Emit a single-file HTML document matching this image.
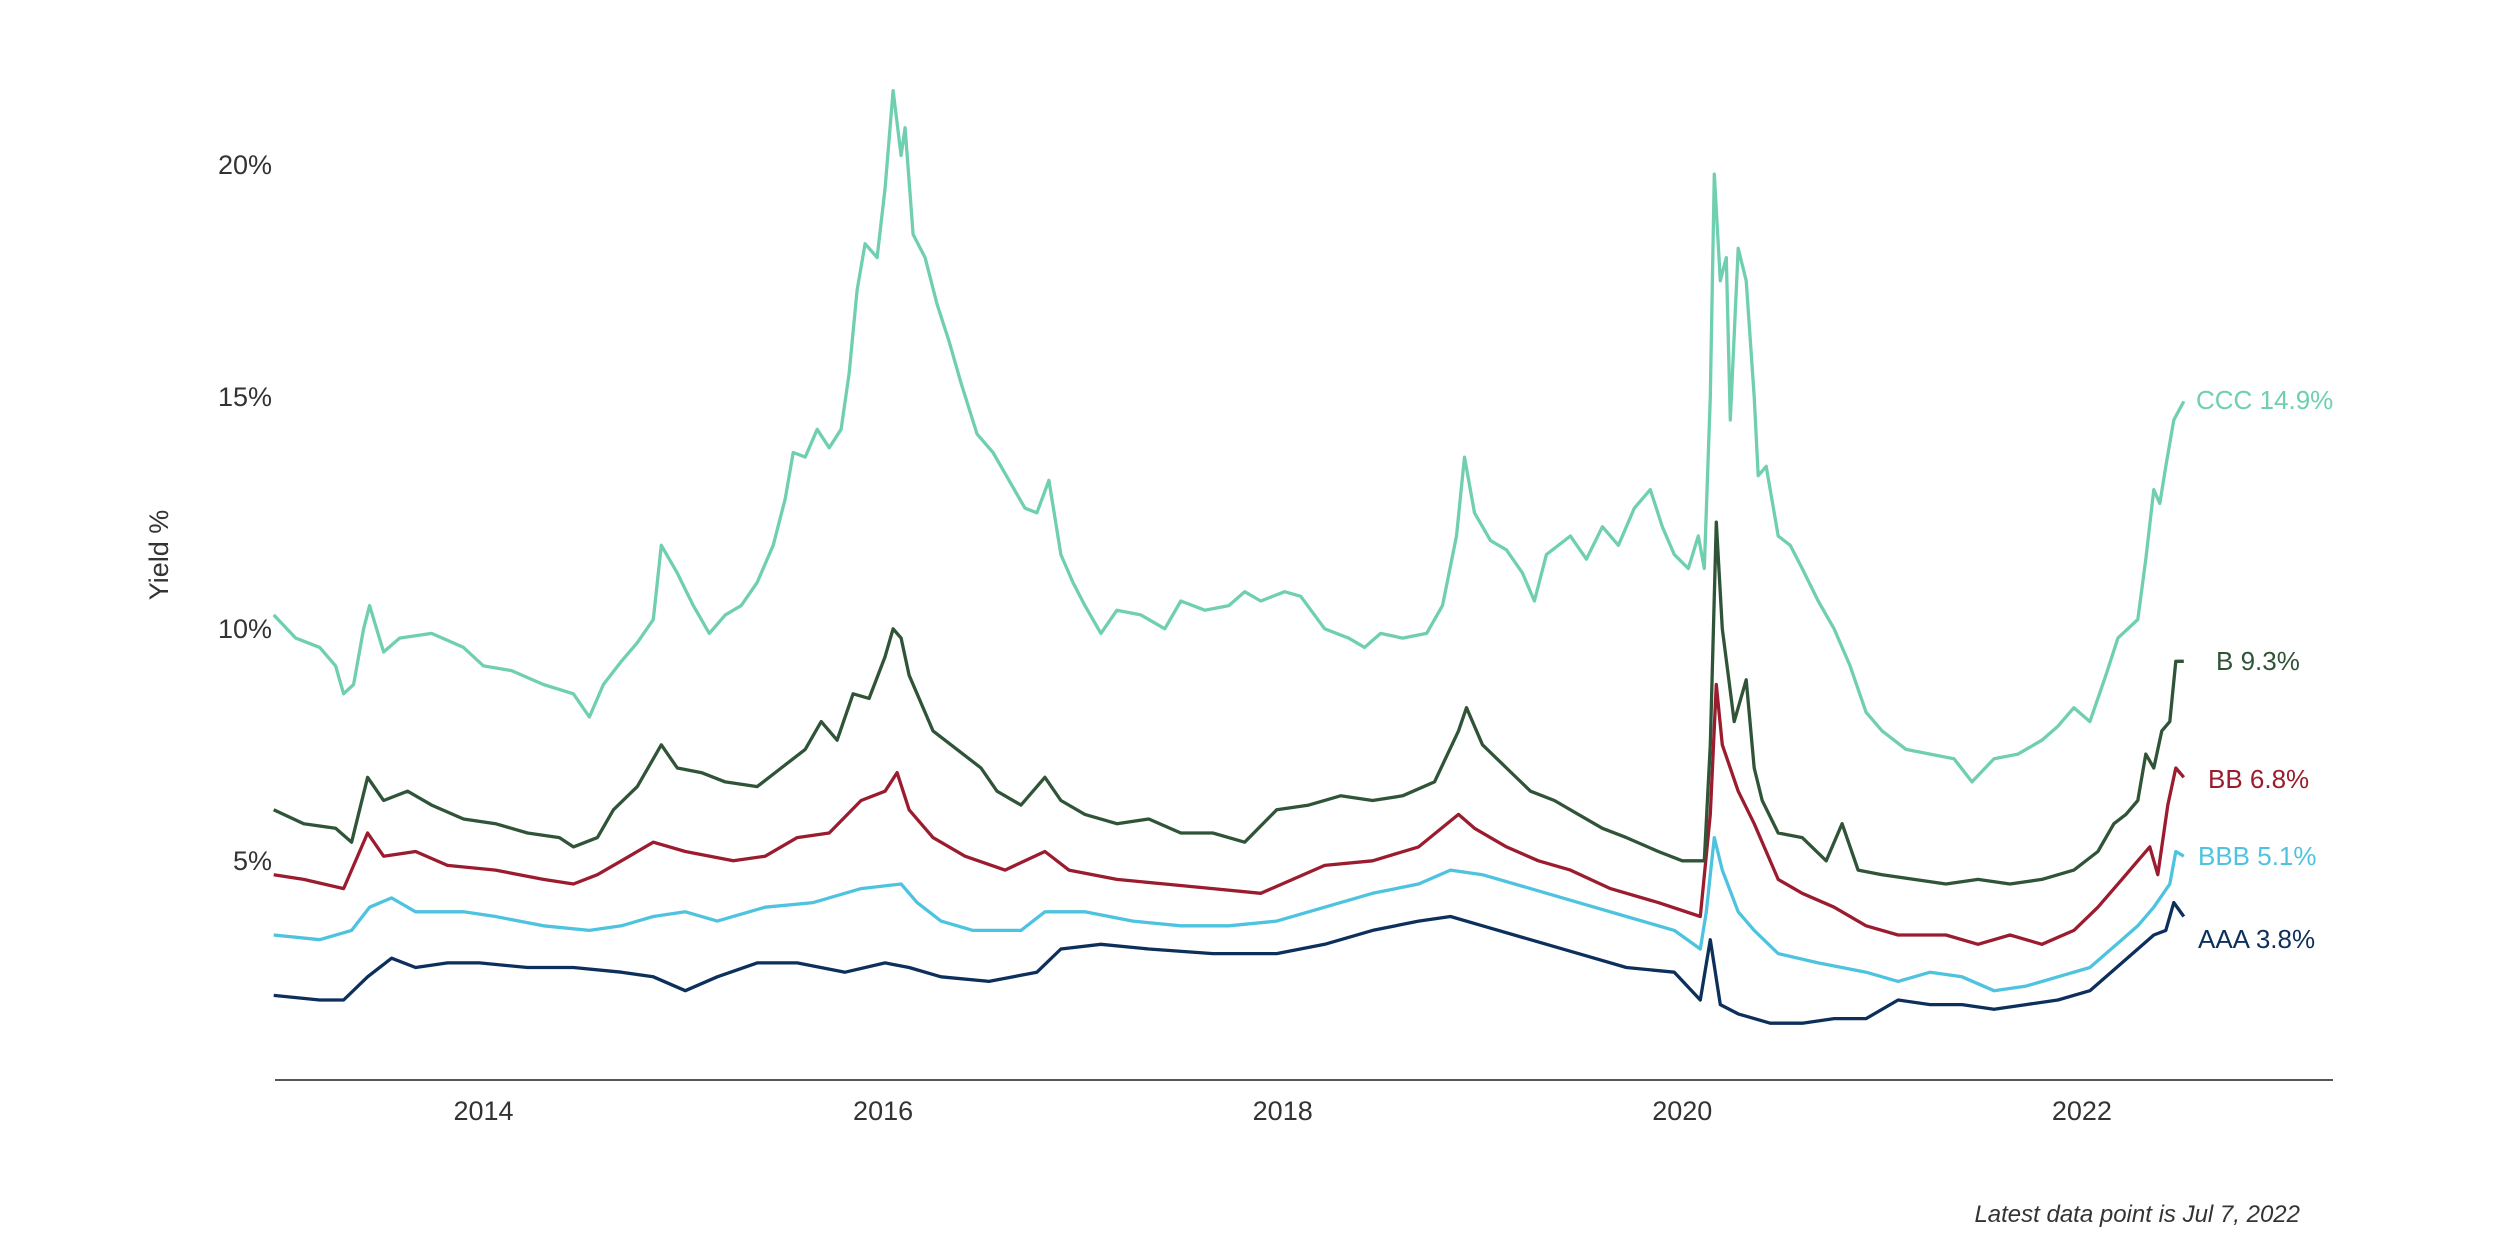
<!DOCTYPE html>
<html><head><meta charset="utf-8"><style>
html,body{margin:0;padding:0;background:#fff;}
svg{display:block;font-family:"Liberation Sans",sans-serif;}
</style></head><body>
<svg id="chart" width="2500" height="1250" viewBox="0 0 2500 1250">
<g id="axes"></g>
<g id="series"></g>
<g id="labels"></g>
<text transform="translate(168,555) rotate(-90)" text-anchor="middle" font-size="27" fill="#333">Yield %</text>
<text x="2300" y="1222" text-anchor="end" font-size="24" font-style="italic" fill="#333">Latest data point is Jul 7, 2022</text>
</svg>
<script>
const yTicks = [5, 10, 15, 20];
const xTicks = [2014, 2016, 2018, 2020, 2022];
const cccDates = [2012.95,2013.06,2013.18,2013.26,2013.30,2013.35,2013.40,2013.43,2013.50,2013.58,2013.74,2013.90,2014.0,2014.14,2014.30,2014.45,2014.53,2014.60,2014.69,2014.77,2014.85,2014.89,2014.97,2015.05,2015.13,2015.21,2015.29,2015.37,2015.45,2015.51,2015.55,2015.61,2015.67,2015.73,2015.79,2015.83,2015.87,2015.91,2015.97,2016.01,2016.05,2016.09,2016.11,2016.15,2016.21,2016.27,2016.33,2016.39,2016.47,2016.55,2016.63,2016.71,2016.77,2016.83,2016.89,2016.95,2017.01,2017.09,2017.17,2017.29,2017.41,2017.49,2017.61,2017.73,2017.81,2017.89,2018.01,2018.09,2018.21,2018.33,2018.41,2018.49,2018.60,2018.72,2018.80,2018.87,2018.91,2018.96,2019.04,2019.12,2019.20,2019.26,2019.32,2019.44,2019.52,2019.60,2019.68,2019.76,2019.84,2019.90,2019.96,2020.03,2020.08,2020.11,2020.14,2020.16,2020.19,2020.22,2020.24,2020.28,2020.32,2020.36,2020.38,2020.42,2020.48,2020.54,2020.60,2020.68,2020.76,2020.84,2020.92,2021.00,2021.12,2021.24,2021.36,2021.45,2021.56,2021.68,2021.80,2021.88,2021.96,2022.04,2022.12,2022.18,2022.28,2022.32,2022.36,2022.39,2022.42,2022.46,2022.51];
const cccValues = [10.3,9.8,9.6,9.2,8.6,8.8,10.0,10.5,9.5,9.8,9.9,9.6,9.2,9.1,8.8,8.6,8.1,8.8,9.3,9.7,10.2,11.8,11.2,10.5,9.9,10.3,10.5,11.0,11.8,12.8,13.8,13.7,14.3,13.9,14.3,15.5,17.3,18.3,18.0,19.5,21.6,20.2,20.8,18.5,18.0,17.0,16.2,15.3,14.2,13.8,13.2,12.6,12.5,13.2,11.6,11.0,10.5,9.9,10.4,10.3,10.0,10.6,10.4,10.5,10.8,10.6,10.8,10.7,10.0,9.8,9.6,9.9,9.8,9.9,10.5,12.0,13.7,12.5,11.9,11.7,11.2,10.6,11.6,12.0,11.5,12.2,11.8,12.6,13.0,12.2,11.6,11.3,12.0,11.3,15.0,19.8,17.5,18.0,14.5,18.2,17.5,15.0,13.3,13.5,12.0,11.8,11.3,10.6,10.0,9.2,8.2,7.8,7.4,7.3,7.2,6.7,7.2,7.3,7.6,7.9,8.3,8.0,9.0,9.8,10.2,11.5,13.0,12.7,13.5,14.5,14.9];
const bDates = [2012.95,2013.10,2013.26,2013.34,2013.42,2013.50,2013.62,2013.74,2013.90,2014.06,2014.22,2014.38,2014.45,2014.57,2014.65,2014.77,2014.89,2014.97,2015.09,2015.21,2015.37,2015.49,2015.61,2015.69,2015.77,2015.85,2015.93,2016.01,2016.05,2016.09,2016.13,2016.17,2016.25,2016.37,2016.49,2016.57,2016.69,2016.81,2016.89,2017.01,2017.17,2017.33,2017.49,2017.65,2017.81,2017.97,2018.13,2018.29,2018.45,2018.60,2018.76,2018.88,2018.92,2019.00,2019.12,2019.24,2019.36,2019.48,2019.60,2019.72,2019.88,2020.00,2020.11,2020.14,2020.17,2020.20,2020.26,2020.32,2020.36,2020.40,2020.48,2020.60,2020.72,2020.80,2020.88,2021.00,2021.16,2021.32,2021.48,2021.64,2021.80,2021.96,2022.08,2022.16,2022.22,2022.28,2022.32,2022.36,2022.40,2022.44,2022.47,2022.51];
const bValues = [6.1,5.8,5.7,5.4,6.8,6.3,6.5,6.2,5.9,5.8,5.6,5.5,5.3,5.5,6.1,6.6,7.5,7.0,6.9,6.7,6.6,7.0,7.4,8.0,7.6,8.6,8.5,9.4,10.0,9.8,9.0,8.6,7.8,7.4,7.0,6.5,6.2,6.8,6.3,6.0,5.8,5.9,5.6,5.6,5.4,6.1,6.2,6.4,6.3,6.4,6.7,7.8,8.3,7.5,7.0,6.5,6.3,6.0,5.7,5.5,5.2,5.0,5.0,7.5,12.3,10.0,8.0,8.9,7.0,6.3,5.6,5.5,5.0,5.8,4.8,4.7,4.6,4.5,4.6,4.5,4.6,4.8,5.2,5.8,6.0,6.3,7.3,7.0,7.8,8.0,9.3,9.3];
const bbDates = [2012.95,2013.10,2013.30,2013.42,2013.50,2013.66,2013.82,2014.06,2014.30,2014.45,2014.57,2014.69,2014.85,2015.01,2015.25,2015.41,2015.57,2015.73,2015.89,2016.01,2016.07,2016.13,2016.25,2016.41,2016.61,2016.81,2016.93,2017.17,2017.41,2017.65,2017.89,2018.05,2018.21,2018.45,2018.68,2018.88,2018.96,2019.12,2019.28,2019.44,2019.64,2019.88,2020.09,2020.14,2020.17,2020.20,2020.28,2020.36,2020.48,2020.60,2020.76,2020.92,2021.08,2021.32,2021.48,2021.64,2021.80,2021.96,2022.08,2022.20,2022.28,2022.34,2022.38,2022.43,2022.47,2022.51];
const bbValues = [4.7,4.6,4.4,5.6,5.1,5.2,4.9,4.8,4.6,4.5,4.7,5.0,5.4,5.2,5.0,5.1,5.5,5.6,6.3,6.5,6.9,6.1,5.5,5.1,4.8,5.2,4.8,4.6,4.5,4.4,4.3,4.6,4.9,5.0,5.3,6.0,5.7,5.3,5.0,4.8,4.4,4.1,3.8,6.0,8.8,7.5,6.5,5.8,4.6,4.3,4.0,3.6,3.4,3.4,3.2,3.4,3.2,3.5,4.0,4.6,5.0,5.3,4.7,6.2,7.0,6.8];
const bbbDates = [2012.95,2013.18,2013.34,2013.43,2013.54,2013.66,2013.90,2014.06,2014.30,2014.53,2014.69,2014.85,2015.01,2015.17,2015.41,2015.65,2015.89,2016.09,2016.17,2016.29,2016.45,2016.69,2016.81,2017.01,2017.25,2017.49,2017.73,2017.97,2018.21,2018.45,2018.68,2018.84,2019.00,2019.24,2019.48,2019.72,2019.96,2020.09,2020.12,2020.16,2020.20,2020.28,2020.36,2020.48,2020.68,2020.92,2021.08,2021.24,2021.40,2021.56,2021.72,2021.88,2022.04,2022.20,2022.28,2022.36,2022.44,2022.47,2022.51];
const bbbValues = [3.4,3.3,3.5,4.0,4.2,3.9,3.9,3.8,3.6,3.5,3.6,3.8,3.9,3.7,4.0,4.1,4.4,4.5,4.1,3.7,3.5,3.5,3.9,3.9,3.7,3.6,3.6,3.7,4.0,4.3,4.5,4.8,4.7,4.4,4.1,3.8,3.5,3.1,3.9,5.5,4.8,3.9,3.5,3.0,2.8,2.6,2.4,2.6,2.5,2.2,2.3,2.5,2.7,3.3,3.6,4.0,4.5,5.2,5.1];
const aaaDates = [2012.95,2013.18,2013.30,2013.42,2013.54,2013.66,2013.82,2013.98,2014.22,2014.45,2014.69,2014.85,2015.01,2015.17,2015.37,2015.57,2015.81,2016.01,2016.13,2016.29,2016.53,2016.77,2016.89,2017.09,2017.33,2017.65,2017.97,2018.21,2018.45,2018.68,2018.84,2019.00,2019.24,2019.48,2019.72,2019.96,2020.09,2020.14,2020.19,2020.28,2020.44,2020.60,2020.76,2020.92,2021.08,2021.24,2021.40,2021.56,2021.72,2021.88,2022.04,2022.20,2022.28,2022.36,2022.42,2022.46,2022.51];
const aaaValues = [2.1,2.0,2.0,2.5,2.9,2.7,2.8,2.8,2.7,2.7,2.6,2.5,2.2,2.5,2.8,2.8,2.6,2.8,2.7,2.5,2.4,2.6,3.1,3.2,3.1,3.0,3.0,3.2,3.5,3.7,3.8,3.6,3.3,3.0,2.7,2.6,2.0,3.3,1.9,1.7,1.5,1.5,1.6,1.6,2.0,1.9,1.9,1.8,1.9,2.0,2.2,2.8,3.1,3.4,3.5,4.1,3.8];

const NS = "http://www.w3.org/2000/svg";
function xScale(yr){ return 483.5 + (yr - 2014) * 199.8; }
function yScale(v){ return 1092.8 - v * 46.4; }

const axes = document.getElementById('axes');
const axisLine = document.createElementNS(NS,'line');


axisLine.setAttribute('x1', 275); axisLine.setAttribute('x2', 2333);
axisLine.setAttribute('y1', 1080); axisLine.setAttribute('y2', 1080);
axisLine.setAttribute('stroke', '#555'); axisLine.setAttribute('stroke-width', 2);
axes.appendChild(axisLine);
yTicks.forEach(v => {
  const t = document.createElementNS(NS,'text');
  
  
  t.setAttribute('x', 272); t.setAttribute('y', yScale(v) + 9);
  t.setAttribute('text-anchor', 'end'); t.setAttribute('font-size', 27); t.setAttribute('fill', '#333');
  t.textContent = v + '%';
  axes.appendChild(t);
});
xTicks.forEach(yr => {
  const t = document.createElementNS(NS,'text');
  
  
  t.setAttribute('x', xScale(yr)); t.setAttribute('y', 1120);
  t.setAttribute('text-anchor', 'middle'); t.setAttribute('font-size', 27); t.setAttribute('fill', '#333');
  t.textContent = String(yr);
  axes.appendChild(t);
});

const seriesG = document.getElementById('series');
const labelsG = document.getElementById('labels');
function drawSeries(name, dates, vals, color, label, lx, ly){
  const p = document.createElementNS(NS,'path');
  
  
  let d = '';
  for (let i = 0; i < dates.length; i++) d += (i ? 'L' : 'M') + xScale(dates[i]).toFixed(1) + ',' + yScale(vals[i]).toFixed(1);
  p.setAttribute('d', d);
  p.setAttribute('fill', 'none'); p.setAttribute('stroke', color);
  p.setAttribute('stroke-width', 3.3); p.setAttribute('stroke-linejoin', 'round');
  seriesG.appendChild(p);
  const t = document.createElementNS(NS,'text');
  
  
  t.setAttribute('x', lx); t.setAttribute('y', ly);
  t.setAttribute('font-size', 26); t.setAttribute('fill', color);
  t.textContent = label + ' ' + vals[vals.length - 1].toFixed(1) + '%';
  labelsG.appendChild(t);
}
drawSeries('aaa', aaaDates, aaaValues, '#0d2f5c', 'AAA', 2198, 948);
drawSeries('bbb', bbbDates, bbbValues, '#4ec3e0', 'BBB', 2198, 865);
drawSeries('bb', bbDates, bbValues, '#9b1c2e', 'BB', 2208, 788);
drawSeries('b', bDates, bValues, '#2f5437', 'B', 2216, 670);
drawSeries('ccc', cccDates, cccValues, '#6fcfb0', 'CCC', 2196, 409);
</script>
</body></html>
